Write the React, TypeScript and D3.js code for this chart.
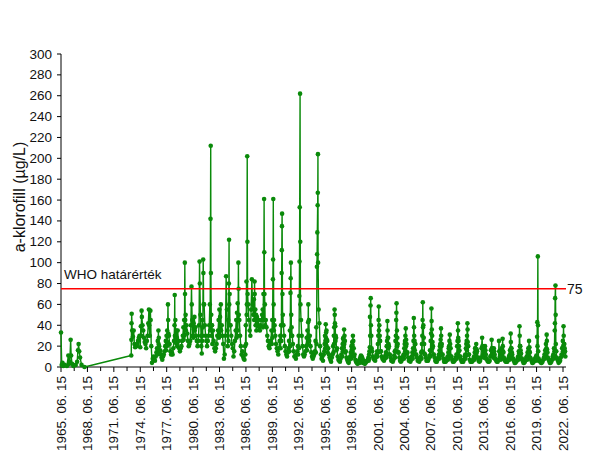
import React from 'react';
import * as d3 from 'd3';

// ---------- DATA ----------
const yTicks = [0, 20, 40, 60, 80, 100, 120, 140, 160, 180, 200, 220, 240, 260, 280, 300];
const xTickYears = [1965, 1968, 1971, 1974, 1977, 1980, 1983, 1986, 1989, 1992, 1995, 1998, 2001, 2004, 2007, 2010, 2013, 2016, 2019, 2022];
const yTitle = 'a-klorofill (µg/L)';
const whoLimit = 75;
const whoLabel = 'WHO határérték';

const earlyDates = [
  '1965-06-15', '1965-07-15', '1965-08-15', '1965-09-15', '1965-11-15',
  '1966-02-15', '1966-04-15', '1966-05-15', '1966-06-15', '1966-07-20', '1966-08-10', '1966-09-15', '1966-11-15',
  '1967-02-15', '1967-04-15', '1967-05-20', '1967-06-15', '1967-07-10', '1967-08-15', '1967-10-15', '1968-02-15',
];
const earlyValues = [33, 2, 4, 1, 2, 1, 11, 3, 5, 26, 11, 3, 1, 2, 5, 16, 22, 15, 9, 2, 0];

type V = number | number[] | null;
// monthly values (Jan..Dec); an array = several samples within that month
const values1970s: V[] = [
  /*1973*/ null, null, null, null, null, [11, 26, 42, 51], 35, 29, 35, 22, 19, null,
  /*1974*/ 20, 22, 25, 28, 30, 19, [39, 30], [54, 48], 40, 35, 28, 24,
  /*1975*/ 22, 18, 25, 30, 42, [55, 40], 30, [54, 45], 20, 4, 8, 10,
  /*1976*/ 8, 6, 10, 14, [18, 12], [25, 16], [35, 22, 28], [20, 14], 16, 12, 9, 7,
  /*1977*/ 10, 12, 15, 20, [25, 16], [30, 20], [35, 24, 30], [60, 45, 32], 30, 22, 15, 12,
  /*1978*/ 14, 12, 18, 25, [40, 69, 30], [45, 28], [23, 35], [28, 20], 35, 25, 18, 15,
  /*1979*/ 18, 20, 25, 30, [38, 26], [45, 30], [100, 70, 45], [50, 35], 40, 32, 25, 20,
];
const values1980s: V[] = [
  /*1980*/ 22, 25, 40, [77, 60], [45, 30], [40, 28], [42, 30, 36], [48, 35], 38, 30, 25, 20,
  /*1981*/ 25, 40, [101, 80], 50, [30, 20], [13, 25], [45, 30, 38], [103, 90, 60], 60, 40, 30, 25,
  /*1982*/ 20, 25, 30, 40, [60, 35], [142, 212, 90], [50, 30, 40], [40, 22], 35, 25, 18, 15,
  /*1983*/ 18, 22, 30, 35, [45, 28], [55, 30], [48, 30, 36], [60, 35], 40, 30, 22, 8,
  /*1984*/ 12, 30, 87, 55, [35, 20], [45, 25], [80, 122, 60], [70, 40], 40, 30, 22, 18,
  /*1985*/ 10, 15, 25, 35, [45, 28], [52, 30], [61, 35, 45], [100, 75, 50], 45, 30, 20, 12,
  /*1986*/ 15, 10, 8, 7, [20, 12], [40, 22], [82, 50, 60], [202, 120, 70], 60, 45, 35, 30,
  /*1987*/ 55, 84, 60, 50, [65, 45], [82, 70, 50], [55, 40], [50, 35], 48, 40, 45, 38,
  /*1988*/ 35, 40, 45, 50, [55, 38], [70, 45], [161, 110, 70], [60, 40], 45, 38, 30, 25,
  /*1989*/ 20, 18, 22, 25, [35, 22], [45, 28], [84, 103, 161], [60, 35, 45], 40, 30, 22, 18,
];
const values1990s: V[] = [
  /*1990*/ 15, 12, 18, 25, [30, 18], [40, 25], [90, 112, 135, 147], [70, 40, 50], 40, 30, 20, 15,
  /*1991*/ 12, 10, 14, 18, [25, 15], [35, 20], [71, 85, 100], [50, 30, 38], 30, 22, 15, 10,
  /*1992*/ 10, 8, 12, 15, [20, 12], [30, 18], [68, 101, 153], [262, 120, 60], 45, 30, 20, 12,
  /*1993*/ 10, 12, 15, 20, [28, 16], [35, 22], [43, 60, 30], [45, 25], 30, 20, 14, 10,
  /*1994*/ 8, 10, 12, 15, [25, 14], [38, 22], [96, 108, 129], [155, 167, 204, 100], 55, 42, 20, 12,
  /*1995*/ 8, 10, 6, 12, [15, 22], [30, 18, 25], [41, 28, 33], [35, 20, 26], [25, 14], 18, 12, 9,
  /*1996*/ 7, 5, 9, 12, [20, 14], [30, 22, 38], [55, 50, 42], [39, 25, 30], [28, 16], 18, 10, 7,
  /*1997*/ 6, 5, 8, 12, [18, 10], [22, 15, 27], [28, 19, 24], [36, 22, 30], [25, 14], 15, 9, 7,
  /*1998*/ 5, 4, 7, 10, [14, 8], [20, 12, 17], [24, 15, 21], [30, 18, 25], [18, 10], 12, 7, 5,
  /*1999*/ 4, 3, 5, 6, [7, 4], [9, 5, 8], [11, 6, 9], [10, 5, 8], [8, 4], 6, 4, 3,
];
const values2000s: V[] = [
  /*2000*/ 4, 5, 6, 7, [9, 6], [12, 8, 15], [19, 48, 30], [59, 66, 40], [30, 18], 15, 10, 8,
  /*2001*/ 7, 6, 9, 12, [15, 10], [22, 14, 30], [45, 58, 35], [40, 25, 30], [25, 15], 15, 10, 8,
  /*2002*/ 7, 6, 8, 11, [14, 9], [20, 12, 25], [44, 35, 28], [28, 18, 22], [20, 12], 12, 9, 6,
  /*2003*/ 6, 5, 7, 11, [15, 9], [25, 16, 30], [45, 52, 61], [35, 20, 28], [22, 14], 14, 9, 6,
  /*2004*/ 5, 6, 8, 10, [12, 8], [18, 11, 22], [25, 15, 30], [37, 20, 26], [22, 13], 14, 9, 6,
  /*2005*/ 6, 5, 7, 10, [14, 8], [18, 12, 25], [47, 38, 30], [25, 16, 22], [22, 12], 12, 9, 6,
  /*2006*/ 6, 5, 7, 10, [14, 8], [22, 15, 30], [45, 62, 38], [40, 22, 28], [22, 13], 12, 9, 6,
  /*2007*/ 6, 6, 8, 11, [16, 10], [25, 15, 32], [56, 44, 36], [30, 18, 24], [20, 12], 12, 9, 6,
  /*2008*/ 5, 5, 7, 9, [12, 8], [16, 10, 20], [22, 14, 26], [37, 30, 20], [22, 12], 12, 8, 5,
  /*2009*/ 5, 5, 6, 8, [10, 7], [14, 9, 18], [20, 12, 25], [31, 18, 22], [18, 10], 10, 7, 5,
];
const values2010s: V[] = [
  /*2010*/ 5, 6, 7, 9, [12, 8], [20, 12, 25], [42, 35, 28], [25, 15, 20], [16, 10], 10, 7, 5,
  /*2011*/ 5, 5, 7, 10, [12, 8], [18, 11, 22], [25, 16, 30], [42, 36, 24], [20, 12], 12, 7, 5,
  /*2012*/ 5, 5, 6, 8, [10, 7], [14, 9, 18], [18, 11, 15], [22, 13, 17], [15, 9], 9, 6, 5,
  /*2013*/ 6, 9, 18, [28, 20], [20, 12], [15, 9, 12], [18, 10, 14], [20, 12, 16], [12, 8], 8, 6, 5,
  /*2014*/ 5, 6, 10, [16, 11], [26, 18], [18, 11, 14], [15, 9, 13], [18, 11, 15], [12, 8], 8, 6, 5,
  /*2015*/ 5, 7, [25, 15], [15, 10], [10, 7], [12, 8, 11], [18, 10, 14], [27, 20, 15], [14, 9], 8, 6, 5,
  /*2016*/ 5, 5, 7, 9, [11, 7], [16, 10, 13], [32, 24, 18], [18, 11, 14], [12, 8], 8, 6, 4,
  /*2017*/ 4, 5, 6, 8, [10, 7], [15, 9, 13], [39, 30, 20], [20, 12, 16], [13, 8], 8, 6, 4,
  /*2018*/ 4, 5, 7, 9, [10, 7], [14, 9, 12], [18, 11, 15], [25, 15, 19], [14, 9], 8, 6, 4,
  /*2019*/ 4, 5, 6, 8, [9, 6], [11, 7, 10], [29, 43, 20], [106, 40, 15], [8, 6], 6, 5, 4,
];
const values2020s: V[] = [
  /*2020*/ 4, 5, 7, 9, [12, 8], [16, 10, 13], [22, 13, 18], [31, 25, 17], [14, 9], 8, 6, 4,
  /*2021*/ 4, 5, 7, 10, [12, 8], [18, 11, 15], [35, 42, 66], [78, 50, 22], [15, 9], 8, 6, 4,
  /*2022*/ 5, 6, 9, 12, [18, 11], [25, 15, 20], [39, 30, 22], [22, 14, 18], [15, 10],
];

type Pt = { date: Date; value: number };

function expand(startYear: number, arr: V[]): Pt[] {
  const pts: Pt[] = [];
  arr.forEach((v, i) => {
    if (v == null) return;
    const yr = startYear + Math.floor(i / 12);
    const mo = i % 12;
    const vs = Array.isArray(v) ? v : [v];
    vs.forEach((val, j) => {
      const day = vs.length === 1 ? 15 : Math.round(3 + ((j + 0.5) * 24) / vs.length);
      pts.push({ date: new Date(yr, mo, day), value: val });
    });
  });
  return pts;
}

const parse = d3.timeParse('%Y-%m-%d');

export default function App() {
  const W = 605;
  const H = 463;
  const font = "'Liberation Sans', Arial, sans-serif";
  const green = '#0a8a0a';

  const points: Pt[] = [
    ...earlyDates.map((d, i) => ({ date: parse(d) as Date, value: earlyValues[i] })),
    ...expand(1973, values1970s),
    ...expand(1980, values1980s),
    ...expand(1990, values1990s),
    ...expand(2000, values2000s),
    ...expand(2010, values2010s),
    ...expand(2020, values2020s),
  ];

  const x = d3
    .scaleTime()
    .domain([new Date(1965, 5, 15), new Date(2022, 5, 15)])
    .range([61, 563]);
  const y = d3.scaleLinear().domain([0, 300]).range([367, 54]);

  const line = d3
    .line<Pt>()
    .x((d) => x(d.date))
    .y((d) => y(d.value));

  const majorDates = xTickYears.map((yr) => new Date(yr, 5, 15));
  const minorDates = majorDates
    .slice(0, -1)
    .map((d, i) => new Date((d.getTime() + majorDates[i + 1].getTime()) / 2));

  const axisX0 = x.range()[0];
  const axisY0 = y(0);

  return (
    <svg width={W} height={H} style={{ position: 'absolute', left: 0, top: 0, background: '#fff' }} fontFamily={font}>
      <rect x={0} y={0} width={W} height={H} fill="#fff" />
      {/* y axis */}
      <line x1={axisX0} x2={axisX0} y1={y(300)} y2={axisY0} stroke="#000" strokeWidth={1} />
      {yTicks.map((t) => (
        <g key={t}>
          <line x1={axisX0 - 4} x2={axisX0} y1={y(t)} y2={y(t)} stroke="#000" />
          <text x={52} y={y(t)} textAnchor="end" dominantBaseline="central" fontSize={13.5} fill="#111">
            {t}
          </text>
        </g>
      ))}
      <text
        transform={`translate(19,197) rotate(-90)`}
        textAnchor="middle"
        dominantBaseline="central"
        fontSize={16}
        fill="#111"
      >
        {yTitle}
      </text>

      {/* x axis */}
      <line x1={axisX0} x2={566} y1={axisY0} y2={axisY0} stroke="#000" strokeWidth={1} />
      {majorDates.map((d, i) => (
        <g key={'M' + i}>
          <line x1={x(d)} x2={x(d)} y1={axisY0} y2={axisY0 + 5} stroke="#000" />
          <text
            transform={`translate(${x(d)},376) rotate(-90)`}
            textAnchor="end"
            dominantBaseline="central"
            fontSize={13.5}
            fill="#111"
          >
            {`${xTickYears[i]}. 06. 15`}
          </text>
        </g>
      ))}
      {minorDates.map((d, i) => (
        <line key={'m' + i} x1={x(d)} x2={x(d)} y1={axisY0} y2={axisY0 + 4} stroke="#000" />
      ))}

      {/* series */}
      <path d={line(points) || ''} fill="none" stroke={green} strokeWidth={1.4} strokeLinejoin="round" />
      {points.map((p, i) => (
        <circle key={i} cx={x(p.date)} cy={y(p.value)} r={2.3} fill={green} />
      ))}

      {/* WHO limit */}
      <line x1={axisX0} x2={566} y1={y(whoLimit)} y2={y(whoLimit)} stroke="#ff0000" strokeWidth={1.5} />
      <text x={64} y={y(whoLimit) - 10} fontSize={13.5} fill="#111">
        {whoLabel}
      </text>
      <text x={567} y={y(whoLimit)} dominantBaseline="central" fontSize={14} fill="#111">
        {whoLimit}
      </text>
    </svg>
  );
}
